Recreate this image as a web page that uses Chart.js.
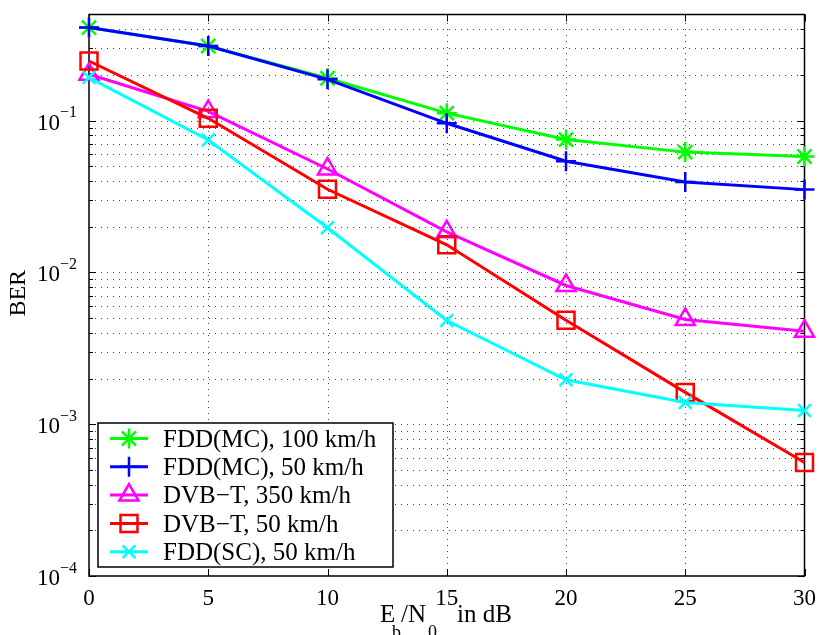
<!DOCTYPE html>
<html><head><meta charset="utf-8">
<script src="https://cdn.jsdelivr.net/npm/chart.js@4.4.0/dist/chart.umd.min.js"></script>
<style>html,body{margin:0;padding:0;background:#fff;}canvas{display:block;}</style>
</head><body>
<canvas id="c" width="819" height="635"></canvas>
<script>
// ---- data ----
const ebn0 = [0, 5, 10, 15, 20, 25, 30];
const fddMc100 = [0.41, 0.31, 0.19, 0.112, 0.075, 0.062, 0.058];
const fddMc50  = [0.41, 0.31, 0.187, 0.096, 0.054, 0.0394, 0.0351];
const dvbt350  = [0.202, 0.115, 0.048, 0.0185, 0.0082, 0.0049, 0.0041];
const dvbt50   = [0.247, 0.1035, 0.0353, 0.0152, 0.00484, 0.00162, 0.00056];
const fddSc50  = [0.192, 0.0746, 0.0197, 0.00482, 0.00196, 0.00139, 0.00123];
const seriesLabels = ['FDD(MC), 100 km/h', 'FDD(MC), 50 km/h', 'DVB\u2212T, 350 km/h', 'DVB\u2212T, 50 km/h', 'FDD(SC), 50 km/h'];
const xTickValues = [0, 5, 10, 15, 20, 25, 30];
const yTickExponents = [-4, -3, -2, -1];
const yAxisTitle = 'BER';
const xTitleParts = ['E', 'b', '/N', '0', 'in dB'];
const xMin = 0, xMax = 30, yMin = 1e-4, yMax = 0.5;

// ---- styles ----
const FONT = '"Liberation Serif", "Times New Roman", serif';
const styles = [
  {color: '#00ff00', pointStyle: 'star', radius: 10},
  {color: '#0000ff', pointStyle: 'cross', radius: 10},
  {color: '#ff00ff', pointStyle: 'triangle', radius: 11},
  {color: '#ff0000', pointStyle: 'rect', radius: 12},
  {color: '#00ffff', pointStyle: 'crossRot', radius: 9}
];
const seriesValues = [fddMc100, fddMc50, dvbt350, dvbt50, fddSc50];

const datasets = seriesValues.map((vals, i) => ({
  label: seriesLabels[i],
  data: ebn0.map((x, j) => ({x: x, y: vals[j]})),
  borderColor: styles[i].color,
  backgroundColor: 'rgba(0,0,0,0)',
  pointBorderColor: styles[i].color,
  pointBackgroundColor: 'rgba(0,0,0,0)',
  borderWidth: 3,
  pointStyle: styles[i].pointStyle,
  pointRadius: styles[i].radius,
  pointBorderWidth: 2.5,
  tension: 0,
  clip: false,
  order: 5 - i
}));

function drawSupText(ctx, base, sup, rightX, baseY, supY) {
  ctx.font = '23px ' + FONT;
  const wb = ctx.measureText(base).width;
  ctx.font = '16px ' + FONT;
  const ws = ctx.measureText(sup).width;
  const x0 = rightX - ws - wb;
  ctx.font = '23px ' + FONT;
  ctx.fillText(base, x0, baseY);
  ctx.font = '16px ' + FONT;
  ctx.fillText(sup, x0 + wb, supY);
}

const matlabPlugin = {
  id: 'matlab',
  beforeDatasetsDraw(chart) {
    const ctx = chart.ctx, a = chart.chartArea;
    const xs = chart.scales.x, ys = chart.scales.y;
    ctx.save();
    ctx.strokeStyle = '#444';
    ctx.lineWidth = 1;
    ctx.setLineDash([1, 5]);
    xTickValues.forEach(v => {
      if (v === xMin || v === xMax) return;
      const px = Math.round(xs.getPixelForValue(v)) + 0.5;
      ctx.beginPath(); ctx.moveTo(px, a.bottom); ctx.lineTo(px, a.top); ctx.stroke();
    });
    const minorVals = [];
    for (let e = -4; e <= -1; e++) {
      for (let k = 1; k <= 9; k++) {
        const v = k * Math.pow(10, e);
        if (v > yMin * 1.0001 && v < yMax * 0.9999) minorVals.push(v);
      }
    }
    minorVals.forEach(v => {
      const py = Math.round(ys.getPixelForValue(v)) + 0.5;
      ctx.beginPath(); ctx.moveTo(a.left, py); ctx.lineTo(a.right, py); ctx.stroke();
    });
    ctx.setLineDash([]);
    ctx.strokeStyle = '#000';
    ctx.lineWidth = 1;
    xTickValues.forEach(v => {
      const px = Math.round(xs.getPixelForValue(v)) + 0.5;
      ctx.beginPath();
      ctx.moveTo(px, a.bottom); ctx.lineTo(px, a.bottom - 7);
      ctx.moveTo(px, a.top); ctx.lineTo(px, a.top + 7);
      ctx.stroke();
    });
    minorVals.concat([yMin]).forEach(v => {
      const major = Math.abs(Math.log10(v) - Math.round(Math.log10(v))) < 1e-9;
      const len = major ? 7 : 4;
      const py = Math.round(ys.getPixelForValue(v)) + 0.5;
      ctx.beginPath();
      ctx.moveTo(a.left, py); ctx.lineTo(a.left + len, py);
      ctx.moveTo(a.right, py); ctx.lineTo(a.right - len, py);
      ctx.stroke();
    });
    ctx.lineWidth = 1.5;
    ctx.strokeRect(a.left, a.top, a.right - a.left, a.bottom - a.top);
    ctx.restore();
  },
  afterDraw(chart) {
    const ctx = chart.ctx, a = chart.chartArea;
    const xs = chart.scales.x, ys = chart.scales.y;
    ctx.save();
    ctx.fillStyle = '#000';
    ctx.textBaseline = 'alphabetic';
    ctx.textAlign = 'left';
    yTickExponents.forEach(e => {
      const py = ys.getPixelForValue(Math.pow(10, e));
      drawSupText(ctx, '10', '\u2212' + Math.abs(e), 77, py + 9, py - 3.5);
    });
    ctx.font = '23px ' + FONT;
    ctx.textAlign = 'center';
    xTickValues.forEach(v => {
      ctx.fillText(String(v), xs.getPixelForValue(v), 605);
    });
    // x title (TeX-like layout)
    ctx.textAlign = 'left';
    const titlePos = [[380, 622, 25], [392, 638, 18], [401, 622, 25], [428, 638, 18], [457, 622, 25]];
    xTitleParts.forEach((t, i) => {
      const p = titlePos[i];
      ctx.font = p[2] + 'px ' + FONT;
      ctx.fillText(t, p[0], p[1]);
    });
    // y title
    ctx.save();
    ctx.translate(25, (a.top + a.bottom) / 2 - 2);
    ctx.rotate(-Math.PI / 2);
    ctx.font = '24px ' + FONT;
    ctx.textAlign = 'center';
    ctx.fillText(yAxisTitle, 0, 0);
    ctx.restore();
    // legend
    const L = 98, T = 423, R = 393, B = 567;
    ctx.fillStyle = '#fff';
    ctx.fillRect(L, T, R - L, B - T);
    ctx.strokeStyle = '#000';
    ctx.lineWidth = 1.5;
    ctx.strokeRect(L, T, R - L, B - T);
    seriesLabels.forEach((lab, i) => {
      const cy = 438.5 + 28.3 * i;
      const st = styles[i];
      ctx.strokeStyle = st.color;
      ctx.lineWidth = 3;
      ctx.beginPath(); ctx.moveTo(110, cy); ctx.lineTo(148, cy); ctx.stroke();
      ctx.fillStyle = 'rgba(0,0,0,0)';
      ctx.lineWidth = 2.5;
      Chart.helpers.drawPoint(ctx, {pointStyle: st.pointStyle, radius: st.radius, borderWidth: 2.5, rotation: 0}, 129, cy);
      ctx.fillStyle = '#000';
      ctx.font = '25px ' + FONT;
      ctx.textAlign = 'left';
      ctx.textBaseline = 'alphabetic';
      ctx.fillText(lab, 163, cy + 8.3);
    });
    ctx.restore();
  }
};

new Chart(document.getElementById('c'), {
  type: 'line',
  data: {datasets: datasets},
  options: {
    responsive: false,
    animation: false,
    devicePixelRatio: 1,
    layout: {padding: {left: 89, right: 14, top: 13, bottom: 59}},
    plugins: {legend: {display: false}, tooltip: {enabled: false}, title: {display: false}},
    scales: {
      x: {type: 'linear', min: xMin, max: xMax,
          ticks: {display: false, stepSize: 5}, grid: {display: false, drawTicks: false}, border: {display: false}},
      y: {type: 'logarithmic', min: yMin, max: yMax,
          ticks: {display: false}, grid: {display: false, drawTicks: false}, border: {display: false}}
    }
  },
  plugins: [matlabPlugin]
});
</script>
</body></html>
